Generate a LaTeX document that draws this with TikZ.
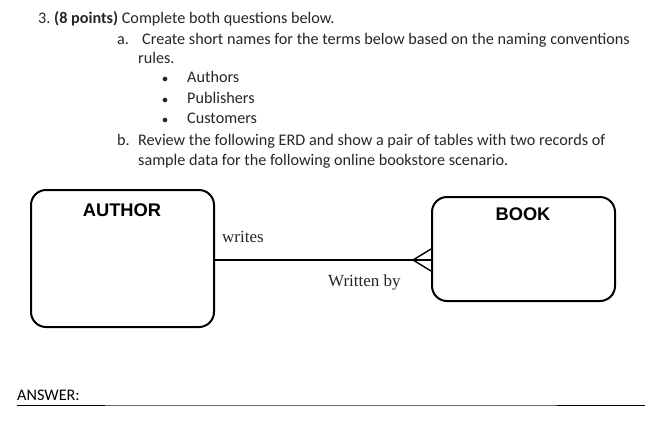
\documentclass[tikz,border=0pt]{standalone}
\usepackage{fontspec}
\setmainfont{Carlito}
\newfontfamily\erdsans{Liberation Sans}
\newfontfamily\erdserif{Liberation Serif}
\begin{document}
\begin{tikzpicture}[x=1pt,y=-1pt,
  txt/.style={anchor=base west,inner sep=0pt,font=\fontsize{16.2}{18}\selectfont,text=black!85},
  entity/.style={draw,line width=2pt,rounded corners=15pt,inner sep=0pt},
  etitle/.style={inner sep=0pt,font=\erdsans\bfseries\fontsize{18.3}{20}\selectfont},
  rel/.style={inner sep=0pt,anchor=base west,font=\erdserif\fontsize{17}{19}\selectfont,text=black!85},
  conn/.style={line width=1.4pt}]
\useasboundingbox (0,0) rectangle (664,432);
% question text
\node[txt] (q3) at (38,23) {3.};
\node[txt] (q3b) at (54,23) {\textbf{(8 points)} Complete both questions below.};
\node[txt] (qa) at (117,44) {a.};
\node[txt] (qat) at (142,44) {Create short names for the terms below based on the naming conventions};
\node[txt] (qa2) at (138,63) {rules.};
\node[txt,font=\fontsize{13}{16}\selectfont] (b1) at (162,82) {$\bullet$};
\node[txt] (t1) at (187,82) {Authors};
\node[txt,font=\fontsize{13}{16}\selectfont] (b2) at (162,103) {$\bullet$};
\node[txt] (t2) at (187,103) {Publishers};
\node[txt,font=\fontsize{13}{16}\selectfont] (b3) at (162,123) {$\bullet$};
\node[txt] (t3) at (187,123) {Customers};
\node[txt] (qb) at (117,145) {b.};
\node[txt] (qbt) at (138,145) {Review the following ERD and show a pair of tables with two records of};
\node[txt] (qb2) at (138,165) {sample data for the following online bookstore scenario.};
% ERD
\node[entity,minimum width=183pt,minimum height=137pt] (author) at (122.5,258.5) {};
\node[etitle] (authort) at (122,210) {AUTHOR};
\node[entity,minimum width=183pt,minimum height=104pt] (book) at (523.5,249) {};
\node[etitle] (bookt) at (523,214) {BOOK};
\coordinate (fa) at (author.east |- 0,260);
\coordinate (fb) at (book.west |- 0,260);
\coordinate (foot) at (413,260);
\coordinate (up) at (book.west |- 0,249);
\coordinate (dn) at (book.west |- 0,271);
\draw[conn] (fa) -- (fb);
\draw[conn] (up) -- (foot) -- (dn);
\node[rel] (writes) at (222,242) {writes};
\node[rel] (wby) at (328,286) {Written by};
% answer
\node[txt,text=black] (ans) at (17,400) {ANSWER:};
\coordinate (l0) at (17,405);
\coordinate (l1) at (105,405);
\coordinate (l2) at (557,405);
\coordinate (l3) at (645,405);
\draw[line width=1pt] (l0) -- (l1);
\draw[line width=0.8pt,black!60] (l1) -- (l2);
\draw[line width=1pt] (l2) -- (l3);
\end{tikzpicture}
\end{document}
